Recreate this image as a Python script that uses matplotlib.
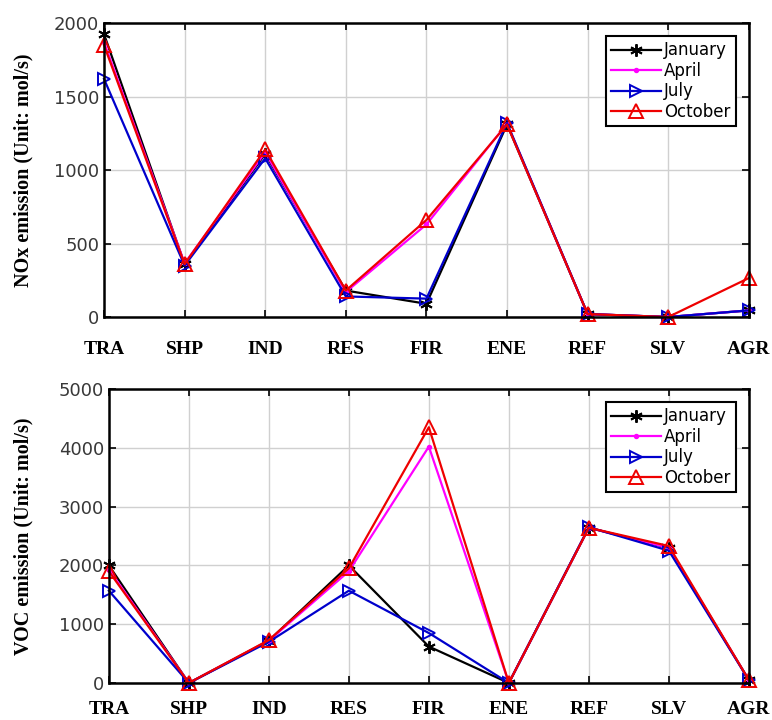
import matplotlib
matplotlib.use("Agg")
import matplotlib.pyplot as plt

sectors = ["TRA", "SHP", "IND", "RES", "FIR", "ENE", "REF", "SLV", "AGR"]
months = ["January", "April", "July", "October"]

nox_jan = [1925, 360, 1110, 180, 90, 1310, 20, 0, 45]
nox_apr = [1870, 365, 1120, 170, 630, 1315, 20, 0, 45]
nox_jul = [1620, 350, 1080, 140, 125, 1320, 20, 0, 45]
nox_oct = [1850, 360, 1140, 180, 660, 1310, 20, 0, 265]

voc_jan = [2000, 0, 720, 2000, 620, 0, 2640, 2300, 50]
voc_apr = [1930, 0, 720, 1900, 4020, 0, 2640, 2300, 50]
voc_jul = [1570, 0, 700, 1570, 850, 0, 2650, 2250, 50]
voc_oct = [1900, 0, 730, 1950, 4350, 0, 2640, 2330, 50]

nox_ticks = [0, 500, 1000, 1500, 2000]
voc_ticks = [0, 1000, 2000, 3000, 4000, 5000]

styles = [
    dict(color="black", marker=(6, 2, 0), markersize=9),
    dict(color="#ff00ff", marker=".", markersize=5, markerfacecolor="#ff00ff"),
    dict(color="#0000cc", marker=">", markersize=9, markerfacecolor="none"),
    dict(color="#ee0000", marker="^", markersize=10, markerfacecolor="none"),
]

fig = plt.figure(figsize=(7.72, 7.2), dpi=100)
ax1 = fig.add_axes([0.1347, 0.5597, 0.8353, 0.4083])
ax2 = fig.add_axes([0.1410, 0.0514, 0.8290, 0.4083])

x = list(range(1, len(sectors) + 1))


def draw(ax, series, ticks, ylabel, label_x, xpad):
    for vals, name, st in zip(series, months, styles):
        ax.plot(x, vals, label=name, linewidth=1.6, clip_on=False,
                markeredgewidth=1.4, markeredgecolor=st["color"], **st)
    ax.set_xlim(1, len(sectors))
    ax.set_ylim(ticks[0], ticks[-1])
    ax.set_xticks(x)
    ax.set_xticklabels(sectors, family="Liberation Serif", fontweight="bold",
                       fontsize=14)
    ax.set_yticks(ticks)
    ax.set_yticklabels([str(t) for t in ticks], fontsize=13, color="#383838")
    ax.set_ylabel(ylabel, family="Liberation Serif", fontweight="bold",
                  fontsize=14.5)
    ax.yaxis.set_label_coords(label_x, 0.5)
    ax.grid(True, color="#d0d0d0", linewidth=1.0)
    ax.set_axisbelow(True)
    ax.tick_params(direction="in", length=5, width=1.2, top=True, right=True)
    ax.tick_params(axis="x", pad=xpad)
    for sp in ax.spines.values():
        sp.set_linewidth(1.8)
    leg = ax.legend(loc="upper right", fontsize=12, frameon=True, fancybox=False,
                    edgecolor="black", framealpha=1, handlelength=3.0,
                    borderpad=0.3, labelspacing=0.15, handletextpad=0.2,
                    borderaxespad=0.8)
    leg.set_zorder(5)
    leg.get_frame().set_linewidth(1.5)


draw(ax1, [nox_jan, nox_apr, nox_jul, nox_oct], nox_ticks,
     "NOx emission (Unit: mol/s)", -0.110, 17)
draw(ax2, [voc_jan, voc_apr, voc_jul, voc_oct], voc_ticks,
     "VOC emission (Unit: mol/s)", -0.117, 13)

fig.savefig("out.png", dpi=100)
